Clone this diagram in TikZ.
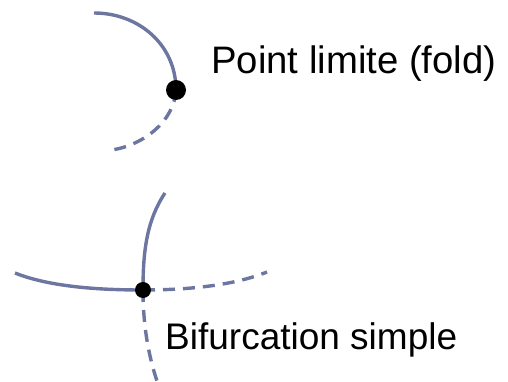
\documentclass[tikz,border=0pt]{standalone}
\usepackage{fontspec}
\setmainfont{Liberation Sans}
\definecolor{curve}{RGB}{108,118,160}
\begin{document}
\begin{tikzpicture}[x=1pt,y=-1pt,
  branch/.style={draw=curve,line width=3.4pt},
  unstable/.style={branch,dash pattern=on 12pt off 8pt},
  bigdot/.style={circle,fill=black,inner sep=0pt,minimum size=#1},
  lbl/.style={anchor=base west,inner sep=0pt}]
\useasboundingbox (0,0) rectangle (508,382);
% fold
\coordinate (f0) at (94,13);
\coordinate (f1) at (112,150);
\draw[branch] (f0) .. controls (139,13) and (176,45) .. (176,90);
\draw[unstable] (176,90) .. controls (174,122) and (143,145) .. (f1);
\node[bigdot=20pt] (fold) at (176,90) {};
\node[lbl,font=\fontsize{38.3}{40}\selectfont] (foldlbl) at (211,74) {Point limite (fold)};
% simple bifurcation
\coordinate (b0) at (165,193);
\coordinate (b1) at (157,381);
\coordinate (b2) at (15,273);
\coordinate (b3) at (267,272);
\draw[branch] (b0) .. controls (147,220) and (143,250) .. (143,290);
\draw[unstable] (143,290) .. controls (143,330) and (150,360) .. (b1);
\draw[branch] (b2) .. controls (50,287) and (100,290) .. (143,290);
\draw[unstable] (143,290) .. controls (190,290) and (235,285) .. (b3);
\node[bigdot=16pt] (bif) at (143,290) {};
\node[lbl,font=\fontsize{37}{40}\selectfont] (biflbl) at (165,349) {Bifurcation simple};
\end{tikzpicture}
\end{document}
